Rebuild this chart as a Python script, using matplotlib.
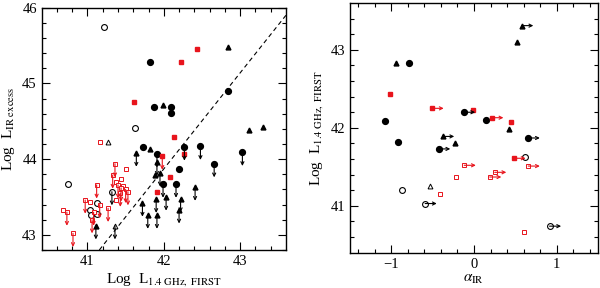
import numpy as np
import matplotlib
matplotlib.use('Agg')
import matplotlib.pyplot as plt

plt.rcParams['font.family'] = 'serif'
plt.rcParams['font.serif'] = ['Liberation Serif', 'DejaVu Serif']
plt.rcParams['mathtext.fontset'] = 'stix'

# ---- left panel: Log L_1.4GHz vs Log L_IR excess ----
# filled black circles
bc_x = [41.82, 41.87, 42.10, 42.09, 42.84, 41.73, 42.20]
bc_y = [45.28, 44.69, 44.69, 44.61, 44.90, 44.16, 43.87]
bc_ul_x = [42.48, 43.03, 42.66, 42.27, 41.91, 41.99, 42.16]
bc_ul_y = [44.17, 44.09, 43.94, 44.16, 44.07, 43.67, 43.67]
# filled black triangles
bt_x = [41.99, 42.84, 43.11, 43.30, 41.82, 41.89]
bt_y = [44.71, 45.48, 44.38, 44.43, 44.13, 43.79]
bt_ul_x = [42.41, 41.64, 41.95, 41.91, 42.03, 42.22, 41.90, 41.72, 42.20, 41.79, 41.91, 41.11]
bt_ul_y = [43.63, 44.08, 43.82, 43.96, 43.50, 43.48, 43.47, 43.42, 43.33, 43.26, 43.26, 43.12]
# open black circles / triangles
oc_x = [41.21, 41.62, 40.75, 41.03, 41.05, 41.13, 41.12]
oc_y = [45.75, 44.41, 43.67, 43.33, 43.26, 43.28, 43.42]
oc_ul_x = [41.32]
oc_ul_y = [43.57]
ot_x = [41.27]
ot_y = [44.23]
ot_ul_x = [41.36]
ot_ul_y = [43.12]
# red squares
rf_x = [42.23, 42.43, 41.61, 42.13, 42.27, 42.08, 41.91]
rf_y = [45.29, 45.45, 44.76, 44.29, 44.07, 43.77, 43.56]
rf_ul_x = [41.98]
rf_ul_y = [44.04]
ro_x = [41.16, 41.51, 41.44, 41.38, 41.47, 41.37, 40.68, 41.03]
ro_y = [44.23, 43.87, 43.74, 43.70, 43.64, 43.46, 43.33, 43.44]
ro_ul_x = [41.36, 41.33, 41.40, 41.50, 41.43, 41.53, 41.44, 41.12, 41.16, 41.27,
           40.97, 40.73, 40.81, 41.06, 41.08]
ro_ul_y = [43.94, 43.79, 43.66, 43.60, 43.55, 43.57, 43.62, 43.66, 43.40, 43.35,
           43.46, 43.30, 43.02, 43.20, 43.30]
line_x = [41.155, 43.6]
line_y = [42.8, 45.9]

# ---- right panel: alpha_IR vs Log L_1.4GHz ----
r_bc_x = [-0.78, -1.08, 0.143, -0.92]
r_bc_y = [42.83, 42.09, 42.10, 41.82]
r_bc_ll_x = [-0.126, 0.655, -0.427]
r_bc_ll_y = [42.20, 41.87, 41.73]
r_bt_x = [-0.947, 0.523, 0.423, -0.23]
r_bt_y = [42.83, 43.10, 41.98, 41.81]
r_bt_ll_x = [0.576, -0.379]
r_bt_ll_y = [43.31, 41.89]
r_oc_x = [0.615, -0.87]
r_oc_y = [41.62, 41.20]
r_oc_ll_x = [-0.59, 0.912]
r_oc_ll_y = [41.03, 40.74]
r_ot_x = [-0.535]
r_ot_y = [41.26]
r_rf_x = [-1.01, -0.01, 0.443]
r_rf_y = [42.43, 42.23, 42.07]
r_rf_ll_x = [-0.506, 0.215, 0.483]
r_rf_ll_y = [42.25, 42.13, 41.61]
r_ro_x = [-0.22, -0.415, 0.603]
r_ro_y = [41.37, 41.15, 40.67]
r_ro_ll_x = [-0.118, 0.655, 0.25, 0.19]
r_ro_ll_y = [41.52, 41.51, 41.43, 41.37]

RED = '#e8141c'


def arrows(ax, xs, ys, dx, dy, color):
    for x, y in zip(xs, ys):
        ax.annotate('', xy=(x + dx, y + dy), xytext=(x, y),
                    arrowprops=dict(arrowstyle='->', color=color, lw=0.8,
                                    mutation_scale=5.5, shrinkA=0, shrinkB=0))


def style(ax):
    ax.tick_params(which='both', direction='in', top=True, right=True, labelsize=10.5)
    ax.tick_params(which='major', length=6, width=0.8)
    ax.tick_params(which='minor', length=3, width=0.8)
    for s in ax.spines.values():
        s.set_linewidth(1.0)


fig = plt.figure(figsize=(6, 2.88), dpi=100)
ax1 = fig.add_axes([0.0695, 0.132, 0.407, 0.841])
ax2 = fig.add_axes([0.583, 0.1226, 0.414, 0.867])

# left
dn = -0.18
for xs, ys, c in [(bc_ul_x, bc_ul_y, 'k'), (bt_ul_x, bt_ul_y, 'k'), (oc_ul_x, oc_ul_y, 'k'),
                  (ot_ul_x, ot_ul_y, 'k'), (rf_ul_x, rf_ul_y, RED), (ro_ul_x, ro_ul_y, RED)]:
    arrows(ax1, xs, ys, 0, dn, c)
ax1.plot(line_x, line_y, 'k--', lw=0.8, dashes=(4, 3))
ax1.plot(bc_x + bc_ul_x, bc_y + bc_ul_y, 'o', color='k', ms=4.2, ls='none')
ax1.plot(bt_x + bt_ul_x, bt_y + bt_ul_y, '^', color='k', ms=3.5, ls='none')
ax1.plot(oc_x + oc_ul_x, oc_y + oc_ul_y, 'o', mfc='white', mec='k', mew=0.8, ms=4.2, ls='none')
ax1.plot(ot_x + ot_ul_x, ot_y + ot_ul_y, '^', mfc='white', mec='k', mew=0.7, ms=3.5, ls='none')
ax1.plot(rf_x + rf_ul_x, rf_y + rf_ul_y, 's', color=RED, ms=3.2, ls='none')
ax1.plot(ro_x + ro_ul_x, ro_y + ro_ul_y, 's', mfc='white', mec=RED, mew=0.7, ms=3.2, ls='none')
ax1.set_xlim(40.4, 43.6)
ax1.set_ylim(42.8, 46.0)
ax1.set_xticks([41, 42, 43])
ax1.set_yticks([43, 44, 45, 46])
ax1.set_xticks(np.arange(40.6, 43.6, 0.2), minor=True)
ax1.set_yticks(np.arange(42.8, 46.0, 0.2), minor=True)
style(ax1)
ax1.set_xlabel(r'Log  L$_{\rm 1.4\ GHz,\ FIRST}$', fontsize=11, labelpad=2)
ax1.set_ylabel(r'Log  L$_{\rm IR\ excess}$', fontsize=11, labelpad=4)

# right
rt = 0.14
for xs, ys, c in [(r_bc_ll_x, r_bc_ll_y, 'k'), (r_bt_ll_x, r_bt_ll_y, 'k'),
                  (r_oc_ll_x, r_oc_ll_y, 'k'), (r_rf_ll_x, r_rf_ll_y, RED),
                  (r_ro_ll_x, r_ro_ll_y, RED)]:
    arrows(ax2, xs, ys, rt, 0, c)
ax2.plot(r_bc_x + r_bc_ll_x, r_bc_y + r_bc_ll_y, 'o', color='k', ms=4.2, ls='none')
ax2.plot(r_bt_x + r_bt_ll_x, r_bt_y + r_bt_ll_y, '^', color='k', ms=3.5, ls='none')
ax2.plot(r_oc_x + r_oc_ll_x, r_oc_y + r_oc_ll_y, 'o', mfc='white', mec='k', mew=0.8, ms=4.2, ls='none')
ax2.plot(r_ot_x, r_ot_y, '^', mfc='white', mec='k', mew=0.7, ms=3.5, ls='none')
ax2.plot(r_rf_x + r_rf_ll_x, r_rf_y + r_rf_ll_y, 's', color=RED, ms=3.2, ls='none')
ax2.plot(r_ro_x + r_ro_ll_x, r_ro_y + r_ro_ll_y, 's', mfc='white', mec=RED, mew=0.7, ms=3.2, ls='none')
ax2.set_xlim(-1.5, 1.5)
ax2.set_ylim(40.4, 43.6)
ax2.set_xticks([-1, 0, 1])
ax2.set_yticks([41, 42, 43])
ax2.set_xticks(np.arange(-1.4, 1.5, 0.2), minor=True)
ax2.set_yticks(np.arange(40.6, 43.6, 0.2), minor=True)
style(ax2)
ax2.set_xlabel(r'$\alpha_{\rm IR}$', fontsize=11, labelpad=2)
ax2.set_ylabel(r'Log  L$_{\rm 1.4\ GHz,\ FIRST}$', fontsize=11, labelpad=4)

fig.savefig('out.png', dpi=100)
